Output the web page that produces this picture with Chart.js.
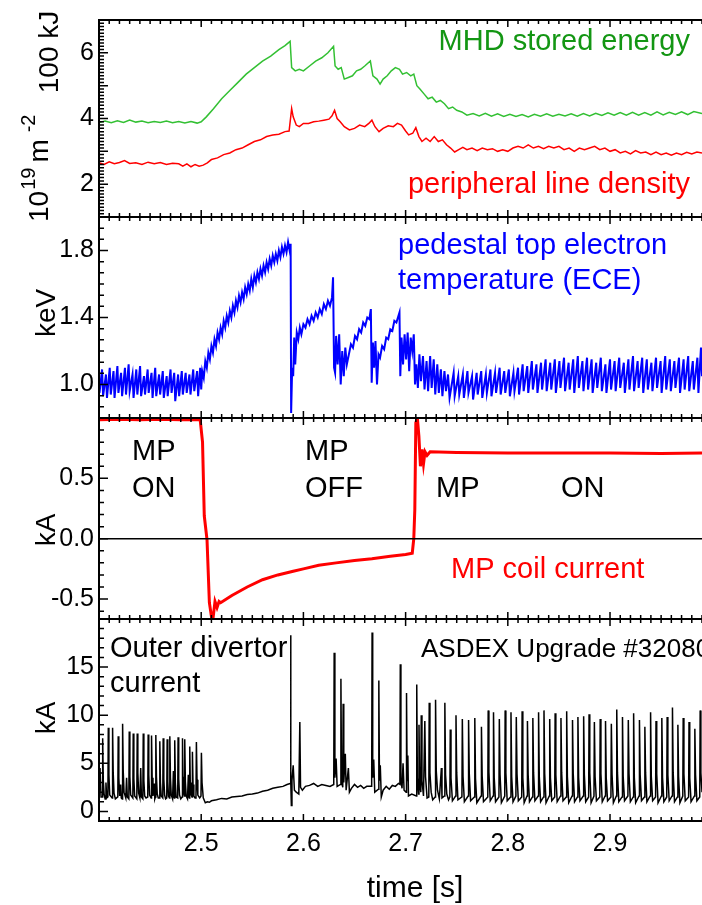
<!DOCTYPE html>
<html lang="en">
<head>
    <meta charset="UTF-8">
    <title>ASDEX Upgrade #32080</title>
    <script src="https://cdn.jsdelivr.net/npm/chart.js"></script>
    <style>
        body { margin: 0; background: #fff; }
        .wrap { position: relative; width: 702px; height: 905px; }
        .wrap canvas { position: absolute; left: 0; top: 0; }
    </style>
</head>
<body>
<div class="wrap">
    <canvas id="p1" width="702" height="905"></canvas>
    <canvas id="p2" width="702" height="905"></canvas>
    <canvas id="p3" width="702" height="905"></canvas>
    <canvas id="p4" width="702" height="905"></canvas>
</div>
<script>
    // ---- axes / tick labels ----
    const xMin = 2.40, xMax = 2.99;
    const xTicks = [2.5, 2.6, 2.7, 2.8, 2.9];
    const wTicks = [2, 4, 6];
    const teTicks = [1.0, 1.4, 1.8];
    const mpTicks = [-0.5, 0.0, 0.5];
    const divTicks = [0, 5, 10, 15];

    // ---- MHD stored energy [100 kJ] (time s, value) ----
    const wmhd = [
        [2.400,3.88],[2.406,3.92],[2.412,3.87],[2.418,3.93],[2.424,3.88],[2.430,3.95],[2.436,3.89],[2.442,3.92],
        [2.448,3.87],[2.454,3.91],[2.460,3.88],[2.466,3.92],[2.472,3.87],[2.478,3.91],[2.484,3.86],[2.490,3.91],
        [2.496,3.86],[2.500,3.90],[2.505,4.05],[2.512,4.30],[2.520,4.60],[2.528,4.85],[2.536,5.10],[2.544,5.35],
        [2.552,5.55],[2.560,5.75],[2.568,5.90],[2.576,6.10],[2.582,6.22],[2.587,6.35],[2.5885,5.55],[2.592,5.45],
        [2.596,5.50],[2.600,5.45],[2.606,5.60],[2.612,5.75],[2.618,5.85],[2.624,6.00],[2.6295,6.20],[2.631,5.60],
        [2.634,5.50],[2.637,5.55],[2.640,5.20],[2.644,5.25],[2.648,5.30],[2.652,5.45],[2.656,5.50],[2.660,5.60],
        [2.6655,5.75],[2.668,5.30],[2.672,5.20],[2.675,5.05],[2.678,5.20],[2.682,5.30],[2.686,5.45],[2.690,5.55],
        [2.694,5.50],[2.697,5.35],[2.701,5.40],[2.705,5.30],[2.708,5.35],[2.711,5.00],[2.714,4.90],[2.718,4.75],
        [2.722,4.60],[2.726,4.65],[2.730,4.50],[2.734,4.55],[2.738,4.45],[2.742,4.30],[2.746,4.35],[2.750,4.25],
        [2.755,4.20],[2.760,4.10],[2.766,4.15],[2.772,4.08],[2.778,4.16],[2.784,4.07],[2.790,4.14],[2.796,4.06],
        [2.802,4.13],[2.808,4.06],[2.814,4.12],[2.820,4.05],[2.826,4.13],[2.832,4.07],[2.838,4.14],[2.844,4.07],
        [2.850,4.13],[2.856,4.08],[2.862,4.14],[2.868,4.07],[2.874,4.15],[2.880,4.08],[2.886,4.16],[2.892,4.09],
        [2.898,4.17],[2.904,4.10],[2.910,4.18],[2.916,4.10],[2.922,4.19],[2.928,4.10],[2.934,4.18],[2.940,4.10],
        [2.946,4.20],[2.952,4.11],[2.958,4.19],[2.964,4.12],[2.970,4.20],[2.976,4.12],[2.982,4.21],[2.990,4.15]
    ];

    // ---- peripheral line density [1e19 m^-2] ----
    const dens = [
        [2.400,2.65],[2.405,2.60],[2.410,2.68],[2.415,2.62],[2.420,2.66],[2.425,2.72],[2.430,2.63],[2.436,2.65],
        [2.442,2.60],[2.448,2.67],[2.454,2.62],[2.460,2.66],[2.466,2.60],[2.472,2.64],[2.478,2.62],[2.482,2.55],
        [2.486,2.62],[2.490,2.53],[2.494,2.60],[2.498,2.55],[2.502,2.58],[2.506,2.65],[2.510,2.75],[2.516,2.80],
        [2.522,2.90],[2.528,2.95],[2.534,3.05],[2.540,3.10],[2.546,3.20],[2.552,3.30],[2.558,3.35],[2.564,3.45],
        [2.570,3.50],[2.576,3.52],[2.582,3.60],[2.586,3.62],[2.5885,4.30],[2.590,4.05],[2.593,3.80],[2.596,3.75],
        [2.600,3.85],[2.605,3.85],[2.610,3.90],[2.615,3.92],[2.620,3.95],[2.625,3.98],[2.628,4.08],[2.6305,4.25],
        [2.633,4.00],[2.636,3.90],[2.640,3.75],[2.645,3.65],[2.650,3.70],[2.655,3.80],[2.660,3.75],[2.664,3.85],
        [2.667,3.95],[2.670,3.75],[2.674,3.60],[2.678,3.70],[2.683,3.78],[2.688,3.75],[2.692,3.85],[2.696,3.80],
        [2.700,3.62],[2.703,3.50],[2.707,3.55],[2.710,3.72],[2.713,3.45],[2.716,3.30],[2.720,3.40],[2.724,3.30],
        [2.728,3.45],[2.732,3.30],[2.736,3.35],[2.740,3.20],[2.744,3.10],[2.748,2.98],[2.752,3.05],[2.756,3.12],
        [2.760,3.05],[2.765,3.10],[2.770,3.02],[2.775,3.10],[2.780,3.05],[2.785,3.08],[2.790,3.00],[2.795,3.05],
        [2.800,3.00],[2.805,3.10],[2.810,3.15],[2.815,3.10],[2.820,3.20],[2.825,3.10],[2.830,3.15],[2.835,3.08],
        [2.840,3.15],[2.845,3.10],[2.850,3.15],[2.855,3.05],[2.860,3.10],[2.865,3.00],[2.870,3.10],[2.875,3.05],
        [2.880,3.10],[2.885,3.15],[2.890,3.05],[2.895,3.10],[2.900,3.00],[2.905,3.05],[2.910,2.95],[2.915,3.00],
        [2.920,2.92],[2.925,3.02],[2.930,2.95],[2.935,2.98],[2.940,2.90],[2.945,2.98],[2.950,2.90],[2.955,2.95],
        [2.960,2.88],[2.965,2.95],[2.970,2.90],[2.975,2.97],[2.980,2.92],[2.985,2.98],[2.990,2.95]
    ];

    // ---- pedestal top electron temperature [keV] ----
    const te = [
        [2.4005,0.95],[2.4030,1.09],[2.4040,0.93],[2.4068,1.06],[2.4078,0.92],[2.4105,1.10],[2.4115,0.94],[2.4142,1.08],
        [2.4152,0.92],[2.4180,1.11],[2.4190,0.95],[2.4216,1.07],[2.4226,0.93],[2.4254,1.10],[2.4264,0.94],[2.4290,1.12],
        [2.4300,0.96],[2.4328,1.06],[2.4338,0.92],[2.4365,1.09],[2.4375,0.94],[2.4402,1.11],[2.4412,0.93],[2.4440,1.05],
        [2.4450,0.94],[2.4476,1.09],[2.4486,0.95],[2.4514,1.07],[2.4524,0.92],[2.4550,1.10],[2.4560,0.93],[2.4588,1.06],
        [2.4598,0.94],[2.4624,1.08],[2.4634,0.92],[2.4662,1.05],[2.4672,0.93],[2.4700,1.09],[2.4710,0.95],[2.4736,1.07],
        [2.4746,0.90],[2.4774,1.06],[2.4784,0.93],[2.4810,1.08],[2.4820,0.94],[2.4848,1.07],[2.4858,0.95],[2.4885,1.06],
        [2.4895,0.94],[2.4922,1.09],[2.4932,0.96],[2.4960,1.08],[2.4970,0.93],[2.4990,1.10],[2.5000,0.97],
        [2.5010,1.08],[2.5025,1.04],[2.5040,1.14],[2.5055,1.10],[2.5070,1.19],[2.5085,1.15],[2.5100,1.23],[2.5115,1.19],
        [2.5130,1.27],[2.5145,1.23],[2.5160,1.31],[2.5175,1.27],[2.5190,1.34],[2.5205,1.30],[2.5220,1.38],[2.5235,1.34],
        [2.5250,1.41],[2.5265,1.37],[2.5280,1.44],[2.5295,1.40],[2.5310,1.47],[2.5325,1.43],[2.5340,1.50],[2.5355,1.46],
        [2.5370,1.53],[2.5385,1.49],[2.5400,1.55],[2.5415,1.51],[2.5430,1.58],[2.5445,1.54],[2.5460,1.60],[2.5475,1.56],
        [2.5490,1.63],[2.5505,1.58],[2.5520,1.65],[2.5535,1.61],[2.5550,1.67],[2.5565,1.63],[2.5580,1.69],[2.5595,1.65],
        [2.5610,1.71],[2.5625,1.67],[2.5640,1.73],[2.5655,1.69],[2.5670,1.75],[2.5685,1.71],[2.5700,1.77],[2.5715,1.73],
        [2.5730,1.78],[2.5745,1.74],[2.5760,1.80],[2.5775,1.76],[2.5790,1.82],[2.5805,1.78],[2.5820,1.83],[2.5835,1.79],
        [2.5850,1.85],[2.5865,1.80],[2.5875,1.84],
        [2.5880,0.83],[2.5890,1.10],[2.5900,1.05],[2.5910,1.28],[2.5920,1.12],[2.5935,1.31],[2.5950,1.27],[2.5965,1.34],
        [2.5980,1.30],[2.6000,1.36],[2.6020,1.34],[2.6040,1.39],[2.6060,1.36],[2.6080,1.41],[2.6100,1.38],[2.6120,1.43],
        [2.6140,1.40],[2.6160,1.45],[2.6180,1.42],[2.6200,1.48],[2.6220,1.45],[2.6240,1.50],[2.6260,1.47],[2.6280,1.52],
        [2.6290,1.64],[2.6300,1.10],[2.6310,1.07],[2.6320,1.29],[2.6335,1.12],[2.6350,1.30],[2.6365,1.00],[2.6380,1.20],
        [2.6395,1.05],[2.6410,1.22],[2.6425,1.12],[2.6445,1.18],[2.6465,1.24],[2.6485,1.22],[2.6505,1.29],[2.6525,1.27],
        [2.6545,1.33],[2.6565,1.31],[2.6585,1.37],[2.6605,1.35],[2.6625,1.40],[2.6645,1.39],[2.6660,1.45],[2.6668,1.01],
        [2.6680,1.25],[2.6692,1.10],[2.6705,1.26],[2.6720,1.00],[2.6735,1.18],[2.6750,1.16],[2.6770,1.23],[2.6790,1.21],
        [2.6810,1.28],[2.6830,1.27],[2.6850,1.33],[2.6870,1.32],[2.6890,1.38],[2.6910,1.37],[2.6940,1.43],[2.6948,1.05],
        [2.6960,1.28],[2.6975,1.12],[2.6990,1.30],[2.7005,1.15],[2.7020,1.31],[2.7035,1.08],[2.7050,1.28],[2.7065,1.20],
        [2.7080,1.30],[2.7092,1.00],[2.7105,1.12],[2.7120,0.98],[2.7135,1.18],[2.7150,1.02],[2.7170,1.17],[2.7185,0.97],
        [2.7205,1.14],[2.7220,0.96],[2.7240,1.17],[2.7255,0.98],[2.7275,1.15],[2.7290,0.94],[2.7310,1.12],[2.7325,0.95],
        [2.7345,1.09],[2.7360,0.93],[2.7380,1.08],[2.7395,0.96],[2.7415,1.06],[2.7430,0.92],
        [2.7470,1.07],[2.7480,0.93],[2.7515,1.05],[2.7525,0.94],[2.7560,1.06],[2.7570,0.92],[2.7605,1.08],[2.7615,0.95],
        [2.7650,1.05],[2.7660,0.91],[2.7695,1.07],[2.7705,0.94],[2.7740,1.08],[2.7750,0.92],[2.7785,1.06],[2.7795,0.95],
        [2.7830,1.09],[2.7840,0.93],[2.7875,1.07],[2.7885,0.95],[2.7920,1.10],[2.7930,0.94],[2.7965,1.08],[2.7975,0.95],
        [2.8010,1.09],[2.8020,0.93],[2.8055,1.07],[2.8065,0.96],[2.8100,1.10],[2.8110,0.94],[2.8145,1.12],[2.8155,0.96],
        [2.8190,1.11],[2.8200,0.95],[2.8235,1.14],[2.8245,0.97],[2.8280,1.12],[2.8290,0.95],[2.8325,1.13],[2.8335,0.97],
        [2.8370,1.15],[2.8380,0.96],[2.8415,1.13],[2.8425,0.97],[2.8460,1.15],[2.8470,0.95],[2.8505,1.14],[2.8515,0.98],
        [2.8550,1.16],[2.8560,0.96],[2.8595,1.13],[2.8605,0.97],[2.8640,1.15],[2.8650,0.95],[2.8685,1.17],[2.8695,0.98],
        [2.8730,1.14],[2.8740,0.96],[2.8775,1.16],[2.8785,0.97],[2.8820,1.15],[2.8830,0.95],[2.8865,1.13],[2.8875,0.98],
        [2.8910,1.16],[2.8920,0.96],[2.8955,1.12],[2.8965,0.95],[2.9000,1.15],[2.9010,0.97],[2.9045,1.14],[2.9055,0.96],
        [2.9090,1.16],[2.9100,0.98],[2.9135,1.13],[2.9145,0.95],[2.9180,1.15],[2.9190,0.97],[2.9225,1.17],[2.9235,0.96],
        [2.9270,1.14],[2.9280,0.98],[2.9315,1.16],[2.9325,0.95],[2.9360,1.15],[2.9370,0.97],[2.9405,1.13],[2.9415,0.96],
        [2.9450,1.16],[2.9460,0.98],[2.9495,1.14],[2.9505,0.95],[2.9540,1.17],[2.9550,0.97],[2.9585,1.15],[2.9595,0.96],
        [2.9630,1.14],[2.9640,0.98],[2.9675,1.16],[2.9685,0.95],[2.9720,1.15],[2.9730,0.97],[2.9765,1.17],[2.9775,0.96],
        [2.9810,1.14],[2.9820,0.97],[2.9855,1.16],[2.9865,0.95],[2.9890,1.22],[2.9900,1.05]
    ];

    // ---- MP coil current [kA] ----
    const mpCoil = [
        [2.400,0.985],[2.420,0.990],[2.440,0.985],[2.460,0.990],[2.480,0.985],[2.499,0.985],[2.5013,0.80],[2.5030,0.19],
        [2.5057,-0.01],[2.5080,-0.53],[2.5110,-0.70],[2.5135,-0.52],[2.5155,-0.57],[2.5175,-0.52],[2.5190,-0.53],
        [2.530,-0.47],[2.545,-0.40],[2.560,-0.34],[2.575,-0.30],[2.590,-0.27],[2.600,-0.25],[2.615,-0.22],[2.632,-0.20],
        [2.650,-0.18],[2.667,-0.165],[2.685,-0.145],[2.700,-0.13],[2.7065,-0.12],[2.7080,0.00],[2.7090,0.24],[2.7100,0.96],
        [2.7115,1.00],[2.7130,0.85],[2.7145,0.60],[2.7160,0.74],[2.7175,0.62],[2.7190,0.72],[2.7210,0.69],[2.7240,0.72],
        [2.750,0.715],[2.800,0.71],[2.850,0.71],[2.900,0.71],[2.950,0.705],[2.990,0.71]
    ];

    // ---- outer divertor current [kA] ----
    const divCur = [
        [2.4000,1.8],[2.4010,4.5],[2.4020,1.5],
        [2.4032,1.5],[2.4036,7.6],[2.4042,3.2],[2.4050,1.8],[2.4060,1.3],[2.4068,3.0],[2.4076,1.4],
        [2.4087,1.5],[2.4091,8.7],[2.4097,3.8],[2.4105,1.7],
        [2.4129,1.4],[2.4133,8.7],[2.4139,4.0],[2.4147,1.9],[2.4160,1.3],
        [2.4184,1.5],[2.4188,7.8],[2.4194,3.5],[2.4202,1.6],[2.4212,2.8],[2.4218,1.4],
        [2.4227,1.3],[2.4231,9.1],[2.4237,4.2],[2.4245,2.0],[2.4262,1.4],[2.4270,3.5],[2.4277,1.5],
        [2.4292,1.3],[2.4296,8.3],[2.4302,3.6],[2.4310,1.7],
        [2.4331,1.4],[2.4335,8.1],[2.4341,3.4],[2.4349,1.6],
        [2.4370,1.3],[2.4374,8.1],[2.4380,4.0],[2.4388,1.9],[2.4400,1.4],[2.4408,4.5],[2.4415,1.5],
        [2.4429,1.3],[2.4433,8.1],[2.4439,3.2],[2.4447,1.6],[2.4460,1.4],
        [2.4477,1.5],[2.4481,8.0],[2.4487,3.8],[2.4495,1.7],
        [2.4510,1.4],[2.4514,7.9],[2.4520,3.5],[2.4528,1.6],[2.4540,2.9],[2.4546,1.3],
        [2.4552,1.5],[2.4556,7.95],[2.4562,3.6],[2.4570,1.8],[2.4580,1.4],
        [2.4591,1.4],[2.4595,7.3],[2.4601,3.0],[2.4609,1.6],
        [2.4624,1.4],[2.4628,7.6],[2.4634,3.4],[2.4642,1.7],[2.4652,1.3],
        [2.4663,1.4],[2.4667,7.5],[2.4673,3.1],[2.4680,1.6],
        [2.4689,1.4],[2.4693,7.8],[2.4699,3.5],[2.4707,1.7],[2.4720,1.3],[2.4728,4.2],[2.4733,1.5],
        [2.4737,1.4],[2.4741,7.4],[2.4747,3.0],[2.4755,1.5],
        [2.4770,1.4],[2.4774,7.7],[2.4780,3.4],[2.4788,1.7],[2.4800,1.3],
        [2.4813,1.5],[2.4817,7.6],[2.4822,3.6],[2.4828,2.0],
        [2.4835,1.6],[2.4839,7.5],[2.4845,3.1],[2.4853,1.6],[2.4866,1.3],[2.4874,3.8],[2.4880,1.5],
        [2.4884,1.4],[2.4888,6.75],[2.4893,3.0],[2.4900,1.8],
        [2.4910,1.5],[2.4914,6.2],[2.4920,2.8],[2.4928,1.6],[2.4940,1.4],
        [2.4949,1.5],[2.4953,7.2],[2.4959,3.3],[2.4967,1.7],[2.4985,1.4],
        [2.4998,1.6],[2.5002,6.1],[2.5008,3.0],[2.5020,1.4],
        [2.5040,0.9],[2.5060,1.0],[2.5080,0.95],[2.510,1.1],[2.515,1.2],[2.520,1.35],[2.525,1.3],[2.530,1.5],
        [2.535,1.55],[2.540,1.6],[2.545,1.75],[2.550,1.8],[2.555,1.9],[2.560,2.1],[2.565,2.2],[2.570,2.4],
        [2.575,2.5],[2.580,2.6],[2.584,2.8],[2.5870,2.9],
        [2.5875,18.3],[2.5878,3.0],[2.5882,0.6],[2.5888,3.2],[2.5900,4.8],[2.5912,2.2],[2.5930,2.0],[2.5955,1.8],
        [2.5965,9.3],[2.5972,2.5],[2.599,2.2],[2.602,2.6],[2.606,2.7],[2.610,2.9],[2.614,2.6],[2.618,2.8],[2.622,2.7],
        [2.626,2.6],[2.6297,2.8],
        [2.6301,16.5],[2.6308,3.5],[2.6320,5.5],[2.6330,2.6],[2.6363,2.8],[2.6367,13.8],[2.6373,3.2],[2.6385,2.5],
        [2.6389,11.2],[2.6395,3.0],[2.6410,6.0],[2.6418,2.2],[2.6440,4.5],[2.6450,2.0],[2.6470,2.4],[2.6500,2.8],
        [2.6530,2.5],[2.6560,2.7],[2.6590,2.4],[2.6620,2.6],[2.6668,2.6],
        [2.6672,18.6],[2.6678,3.5],[2.6688,5.4],[2.6698,2.0],[2.6734,2.3],[2.6738,13.6],[2.6744,3.2],[2.6752,4.8],
        [2.6762,1.5],[2.6780,2.2],[2.6810,2.6],[2.6840,2.3],[2.6870,2.7],[2.6900,2.6],[2.6930,2.9],[2.6944,2.8],
        [2.6948,15.3],[2.6954,3.2],[2.6965,2.4],[2.6975,5.0],[2.6985,2.2],[2.7005,2.0],[2.7009,12.3],[2.7015,3.2],
        [2.7022,5.8],[2.7028,1.6],[2.7060,1.8],
        [2.7105,1.6],[2.7109,13.2],[2.7115,3.5],[2.7127,1.8],[2.7131,9.0],[2.7137,3.0],[2.7149,2.0],[2.7153,10.0],
        [2.7160,3.2],[2.7175,1.6],[2.7188,9.4],[2.7195,3.6],[2.7210,1.4],[2.7227,1.5],[2.7231,11.3],[2.7238,4.0],
        [2.7250,2.0],[2.7265,1.2],[2.7289,1.5],[2.7293,11.6],[2.7300,4.2],[2.7312,2.2],[2.7330,1.3],[2.7350,4.5],
        [2.7356,1.4],[2.7380,1.6],[2.7384,11.3],[2.7391,3.8],[2.7403,1.8],[2.7420,1.2],
        [2.7433,1.5],[2.7437,8.5],[2.7444,3.5],[2.7458,1.1],
        [2.7489,1.6],[2.7493,10.0],[2.7500,4.0],[2.7512,1.2],
        [2.7551,1.5],[2.7555,9.6],[2.7562,3.6],[2.7575,1.0],
        [2.7612,1.6],[2.7616,9.5],[2.7623,3.9],[2.7636,1.1],
        [2.7673,1.5],[2.7677,9.7],[2.7684,3.4],[2.7697,0.9],
        [2.7738,1.6],[2.7742,8.8],[2.7749,3.7],[2.7762,1.0],
        [2.7804,1.5],[2.7808,10.5],[2.7815,4.1],[2.7828,1.1],
        [2.7856,1.6],[2.7860,10.3],[2.7867,3.5],[2.7880,1.0],
        [2.7913,1.5],[2.7917,9.6],[2.7924,3.8],[2.7937,0.9],
        [2.7970,1.6],[2.7974,10.5],[2.7981,4.0],[2.7994,1.1],
        [2.8027,1.5],[2.8031,10.3],[2.8038,3.6],[2.8051,1.0],
        [2.8079,1.6],[2.8083,9.8],[2.8090,3.9],[2.8103,1.1],
        [2.8136,1.5],[2.8140,10.4],[2.8147,3.5],[2.8160,0.9],
        [2.8188,1.6],[2.8192,9.4],[2.8199,3.8],[2.8212,1.0],
        [2.8241,1.5],[2.8245,9.7],[2.8252,4.0],[2.8265,1.1],
        [2.8297,1.6],[2.8301,10.3],[2.8308,3.6],[2.8321,1.0],
        [2.8350,1.5],[2.8354,10.5],[2.8361,3.9],[2.8374,0.9],
        [2.8406,1.6],[2.8410,9.6],[2.8417,3.5],[2.8430,1.1],
        [2.8459,1.5],[2.8463,10.2],[2.8470,3.8],[2.8483,1.0],
        [2.8516,1.6],[2.8520,9.7],[2.8527,4.0],[2.8540,1.1],
        [2.8572,1.5],[2.8576,10.4],[2.8583,3.6],[2.8596,0.9],
        [2.8629,1.6],[2.8633,9.5],[2.8640,3.9],[2.8653,1.0],
        [2.8682,1.5],[2.8686,9.8],[2.8693,3.5],[2.8706,1.1],
        [2.8738,1.6],[2.8742,9.9],[2.8749,3.8],[2.8762,1.0],
        [2.8791,1.5],[2.8795,10.1],[2.8802,4.0],[2.8815,0.9],
        [2.8843,1.6],[2.8847,9.3],[2.8854,3.6],[2.8867,1.1],
        [2.8900,1.5],[2.8904,9.6],[2.8911,3.9],[2.8924,1.0],
        [2.8952,1.6],[2.8956,9.4],[2.8963,3.5],[2.8976,1.1],
        [2.9009,1.5],[2.9013,9.1],[2.9020,3.8],[2.9033,0.9],
        [2.9062,1.6],[2.9066,10.6],[2.9073,4.0],[2.9086,1.0],
        [2.9118,1.5],[2.9122,9.8],[2.9129,3.6],[2.9142,1.1],
        [2.9175,1.6],[2.9179,9.5],[2.9186,3.9],[2.9199,1.0],
        [2.9227,1.5],[2.9231,10.2],[2.9238,3.5],[2.9251,0.9],
        [2.9284,1.6],[2.9288,9.5],[2.9295,3.8],[2.9308,1.1],
        [2.9337,1.5],[2.9341,8.8],[2.9348,4.0],[2.9361,1.0],
        [2.9393,1.6],[2.9397,10.3],[2.9404,3.6],[2.9417,1.1],
        [2.9446,1.5],[2.9450,9.4],[2.9457,3.9],[2.9470,0.9],
        [2.9503,1.6],[2.9507,9.7],[2.9514,3.5],[2.9527,1.0],
        [2.9555,1.5],[2.9559,9.8],[2.9566,3.8],[2.9579,1.1],
        [2.9607,1.6],[2.9611,10.8],[2.9618,4.0],[2.9631,1.0],
        [2.9660,1.5],[2.9664,9.0],[2.9671,3.6],[2.9684,0.9],
        [2.9712,1.6],[2.9716,9.7],[2.9723,3.9],[2.9736,1.1],
        [2.9769,1.5],[2.9773,9.3],[2.9780,3.5],[2.9793,1.0],
        [2.9826,1.6],[2.9830,8.6],[2.9837,3.8],[2.9850,1.1],
        [2.9878,1.5],[2.9882,10.5],[2.9889,4.0],[2.9900,2.0]
    ];

    const FAM = "'Liberation Sans', Arial, Helvetica, sans-serif";
    const tickFont = { family: FAM, size: 25 };
    const W = 702, H = 905;

    function pts(arr) {
        return arr.map(p => ({ x: p[0], y: p[1] }));
    }

    function series(arr, color, width) {
        return {
            data: pts(arr), borderColor: color, borderWidth: width,
            pointRadius: 0, tension: 0, fill: false
        };
    }

    // axis box, inward ticks, zero line and texts
    const decoPlugin = {
        id: 'deco',
        afterDraw(chart, args, o) {
            const ctx = chart.ctx, a = chart.chartArea;
            const xs = chart.scales.x, ys = chart.scales.y;
            ctx.save();
            ctx.strokeStyle = '#000';
            ctx.lineCap = 'butt';

            if (o.zero) {
                const py = ys.getPixelForValue(0);
                ctx.lineWidth = 1.5;
                ctx.beginPath(); ctx.moveTo(a.left, py); ctx.lineTo(a.right, py); ctx.stroke();
            }

            // x ticks on top and bottom edge (every 0.01 s)
            ctx.lineWidth = 1.5;
            ctx.beginPath();
            for (let k = 240; k <= 299; k++) {
                const px = xs.getPixelForValue(k / 100);
                const len = k % 10 === 0 ? 7 : 4;
                ctx.moveTo(px, a.top); ctx.lineTo(px, a.top + len);
                ctx.moveTo(px, a.bottom); ctx.lineTo(px, a.bottom - len);
            }
            // y ticks on left edge
            for (let k = 0; k <= o.n; k++) {
                const v = o.start + k * o.step;
                if (v < ys.min - 1e-9 || v > ys.max + 1e-9) continue;
                const py = ys.getPixelForValue(v);
                const len = (k - o.off) % o.every === 0 ? 9 : 5;
                ctx.moveTo(a.left, py); ctx.lineTo(a.left + len, py);
            }
            ctx.stroke();

            // frame: left, top, bottom
            ctx.lineWidth = 2;
            ctx.beginPath();
            ctx.moveTo(a.right, a.top); ctx.lineTo(a.left, a.top);
            ctx.lineTo(a.left, a.bottom); ctx.lineTo(a.right, a.bottom);
            ctx.stroke();

            // texts
            (o.texts || []).forEach(t => {
                ctx.fillStyle = t.color || '#000';
                ctx.font = (t.size || 29) + 'px ' + FAM;
                ctx.textBaseline = 'alphabetic';
                if (t.rot) {
                    ctx.save();
                    ctx.translate(t.x, t.y);
                    ctx.rotate(-Math.PI / 2);
                    ctx.textAlign = 'center';
                    ctx.fillText(t.text, 0, 0);
                    ctx.restore();
                } else {
                    ctx.textAlign = t.align || 'left';
                    ctx.fillText(t.text, t.x, t.y);
                }
            });

            if (o.densLabel) {
                ctx.save();
                ctx.translate(o.densLabel[0], o.densLabel[1]);
                ctx.rotate(-Math.PI / 2);
                ctx.fillStyle = '#000';
                ctx.textAlign = 'left';
                let cx = 0;
                [['10', 28, 0, 1], ['19', 20, -13, 5], ['m', 28, 0, 7], ['-2', 20, -13, 0]].forEach(p => {
                    ctx.font = p[1] + 'px ' + FAM;
                    ctx.fillText(p[0], cx, p[2]);
                    cx += ctx.measureText(p[0]).width + p[3];
                });
                ctx.restore();
            }
            ctx.restore();
        }
    };

    function makePanel(id, box, yMin, yMax, yTicks, digits, datasets, deco, showX) {
        return new Chart(document.getElementById(id), {
            type: 'line',
            data: { datasets: datasets },
            options: {
                responsive: false,
                animation: false,
                events: [],
                layout: { padding: { left: 0, right: 0, top: box[0], bottom: showX ? 0 : H - box[1] } },
                plugins: { legend: { display: false }, tooltip: { enabled: false }, deco: deco },
                scales: {
                    x: {
                        type: 'linear', min: xMin, max: xMax, display: showX,
                        grid: { display: false, drawTicks: false }, border: { display: false },
                        afterBuildTicks: s => { s.ticks = xTicks.map(v => ({ value: v })); },
                        afterFit: s => { if (showX) s.height = H - box[1]; },
                        ticks: {
                            font: tickFont, color: '#000', padding: 8, maxRotation: 0, autoSkip: false,
                            callback: v => v.toFixed(1)
                        }
                    },
                    y: {
                        type: 'linear', min: yMin, max: yMax,
                        grid: { display: false, drawTicks: false }, border: { display: false },
                        afterBuildTicks: s => { s.ticks = yTicks.map(v => ({ value: v })); },
                        afterFit: s => { s.width = 99; },
                        ticks: { font: tickFont, color: '#000', padding: 5, callback: v => v.toFixed(digits) }
                    }
                }
            },
            plugins: [decoPlugin]
        });
    }

    // panel 1: stored energy + density
    makePanel('p1', [17, 217], 1, 7, wTicks, 0,
        [series(wmhd, '#33c033', 1.5), series(dens, '#ff0000', 1.5)],
        {
            start: 1, step: 0.1, n: 60, every: 10, off: 0,
            texts: [
                { text: 'MHD stored energy', x: 690, y: 50, align: 'right', color: '#139613' },
                { text: 'peripheral line density', x: 690, y: 193, align: 'right', color: '#ff0000' },
                { text: '100 kJ', x: 58, y: 52, rot: true, size: 28 }
            ],
            densLabel: [48, 222]
        }, false);

    // panel 2: pedestal Te
    makePanel('p2', [217, 418], 0.8, 2.0, teTicks, 1,
        [series(te, '#0000ff', 2)],
        {
            start: 0.8, step: 0.4 / 6, n: 18, every: 6, off: 3,
            texts: [
                { text: 'pedestal top electron', x: 398, y: 254, color: '#0000ff' },
                { text: 'temperature (ECE)', x: 398, y: 289, color: '#0000ff' },
                { text: 'keV', x: 55, y: 313, rot: true, size: 28 }
            ]
        }, false);

    // panel 3: MP coil current
    makePanel('p3', [418, 619], -0.665, 1.0, mpTicks, 1,
        [series(mpCoil, '#ff0000', 3)],
        {
            start: -0.6, step: 0.1, n: 16, every: 5, off: 1, zero: true,
            texts: [
                { text: 'MP', x: 132, y: 460 }, { text: 'ON', x: 132, y: 497 },
                { text: 'MP', x: 305, y: 460 }, { text: 'OFF', x: 305, y: 497 },
                { text: 'MP', x: 436, y: 497 }, { text: 'ON', x: 561, y: 497 },
                { text: 'MP coil current', x: 451, y: 578, color: '#ff0000' },
                { text: 'kA', x: 55, y: 530, rot: true, size: 28 }
            ]
        }, false);

    // panel 4: outer divertor current
    makePanel('p4', [619, 821], -1, 20, divTicks, 0,
        [series(divCur, '#000000', 1.5)],
        {
            start: -1, step: 1, n: 21, every: 5, off: 1,
            texts: [
                { text: 'Outer divertor', x: 110, y: 657 },
                { text: 'current', x: 110, y: 692 },
                { text: 'ASDEX Upgrade #32080', x: 421, y: 657, size: 26 },
                { text: 'kA', x: 55, y: 718, rot: true, size: 28 },
                { text: 'time [s]', x: 415, y: 897, align: 'center', size: 30 }
            ]
        }, true);
</script>
</body>
</html>
